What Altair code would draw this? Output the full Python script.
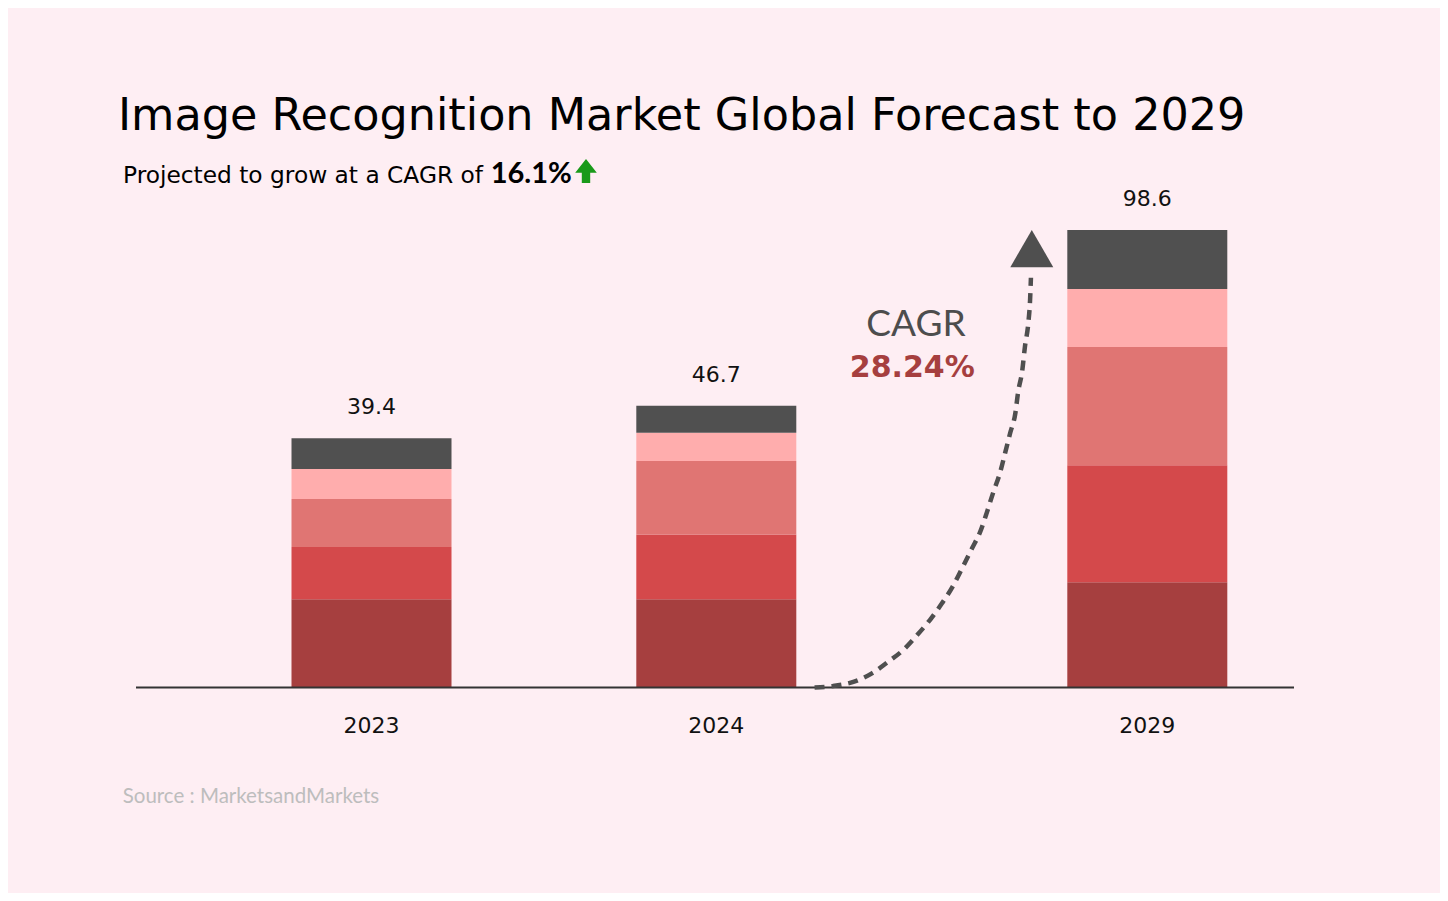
import altair as alt
import pandas as pd

# ---------------- data ----------------
years = ["2023", "2024", "2029"]
totals = ["39.4", "46.7", "98.6"]
segments = ["Segment 1", "Segment 2", "Segment 3", "Segment 4", "Segment 5"]
# segment heights (bottom -> top) as drawn in the picture, in chart units
seg_2023 = [19.0, 11.3, 10.3, 6.5, 6.6]
seg_2024 = [19.0, 13.9, 15.9, 6.1, 5.8]
seg_2029 = [22.7, 25.2, 25.5, 12.5, 12.7]
colors = ["#A63F3F", "#D4494B", "#E07573", "#FFADAD", "#505050"]

# dashed CAGR curve (slot units on x, chart units on y)
curve_slot = [5.14, 5.35, 5.59, 5.81, 5.99, 6.17, 6.33, 6.48, 6.62, 6.74, 6.86, 6.97, 7.06,
              7.14, 7.21, 7.29, 7.35, 7.41, 7.47, 7.50, 7.55, 7.58, 7.62, 7.64, 7.65]
curve_value = [0.0, 0.3, 1.2, 3.1, 5.5, 8.1, 11.3, 14.6, 18.2, 21.7, 26.0, 30.1, 33.5,
               37.8, 41.9, 46.2, 50.5, 54.9, 59.2, 63.5, 68.4, 73.4, 78.6, 83.5, 88.3]
arrow_slot = [7.66]
arrow_value = [94.6]

title_text = "Image Recognition Market Global Forecast to 2029"
subtitle_text = "Projected to grow at a CAGR of"
subtitle_value = "16.1%"
cagr_label = "CAGR"
cagr_value = "28.24%"
source_text = "Source : MarketsandMarkets"

# ---------------- tables ----------------
rows = []
for y, segs in zip(years, [seg_2023, seg_2024, seg_2029]):
    for i, (s, v) in enumerate(zip(segments, segs)):
        rows.append({"year": y, "segment": s, "idx": i, "value": v})
df_bars = pd.DataFrame(rows)
df_tot = pd.DataFrame({
    "year": years,
    "height": [sum(s) for s in [seg_2023, seg_2024, seg_2029]],
    "label": totals,
})
df_curve = pd.DataFrame({"slot": curve_slot, "value": curve_value})
df_arrow = pd.DataFrame({"slot": arrow_slot, "value": arrow_value})

# category slots: years separated by empty slots to reproduce spacing
x_domain = ["2023", "_g1", "_g2", "_g3", "2024", "_g4", "_g5", "_g6", "_g7", "2029"]
X_RANGE = [363.5, 1139.3]
xscale = alt.Scale(type="point", domain=x_domain, range=X_RANGE, padding=0)
yscale = alt.Scale(domain=[0, 100], range=[679.5, 215.5], nice=False, zero=False)

W, H = 1432, 885
BG = "#FEEEF3"

bars = alt.Chart(df_bars).mark_bar(size=160).encode(
    x=alt.X("year:N", scale=xscale, axis=None),
    y=alt.Y("value:Q", stack="zero", scale=yscale, axis=None),
    color=alt.Color("segment:N", scale=alt.Scale(domain=segments, range=colors), legend=None),
    order=alt.Order("idx:Q", sort="ascending"),
)

value_labels = alt.Chart(df_tot).mark_text(
    dy=-24, baseline="alphabetic", align="center", font="DejaVu Sans", fontSize=22, color="#111111"
).encode(
    x=alt.X("year:N", scale=xscale, axis=None),
    y=alt.Y("height:Q", scale=yscale, axis=None),
    text="label:N",
)

year_labels = alt.Chart(df_tot).mark_text(
    baseline="alphabetic", align="center", font="DejaVu Sans", fontSize=22, color="#111111"
).encode(
    x=alt.X("year:N", scale=xscale, axis=None),
    y=alt.value(724.7),
    text="year:N",
)

baseline = alt.Chart(pd.DataFrame({"v": [0]})).mark_rule(color="#333333", strokeWidth=2).encode(
    y=alt.Y("v:Q", scale=yscale, axis=None),
    x=alt.value(128), x2=alt.value(1286),
)

curve_xscale = alt.Scale(domain=[0, 9], range=X_RANGE, nice=False, zero=False)
curve = alt.Chart(df_curve).mark_line(
    color="#4F4F4F", strokeWidth=4.5, strokeDash=[10, 7], interpolate="monotone"
).encode(
    x=alt.X("slot:Q", scale=curve_xscale, axis=None),
    y=alt.Y("value:Q", scale=yscale, axis=None),
)
arrow_head = alt.Chart(df_arrow).mark_point(
    shape="triangle-up", size=1849, filled=True, color="#4F4F4F", opacity=1
).encode(
    x=alt.X("slot:Q", scale=curve_xscale, axis=None),
    y=alt.Y("value:Q", scale=yscale, axis=None),
)


def text_layer(txt, x, y, **kw):
    return alt.Chart(pd.DataFrame({"t": [txt]})).mark_text(baseline="alphabetic", **kw).encode(
        x=alt.value(x), y=alt.value(y), text="t:N"
    )


title = text_layer(title_text, 110, 122, align="left", font="DejaVu Sans", fontSize=44.5,
                   color="#000000")
subtitle = text_layer(subtitle_text, 115, 175.3, align="left", font="DejaVu Sans", fontSize=23.3,
                      color="#000000")
subtitle_val = text_layer(subtitle_value, 482.7, 174.7, align="left", font="Lato", fontSize=29,
                          fontWeight="bold", color="#000000")
green_arrow = alt.Chart(pd.DataFrame({"t": [subtitle_value]})).mark_point(
    shape="M-0.35,1L0.35,1L0.35,0.15L0.9,0.15L0,-1L-0.9,0.15L-0.35,0.15Z",
    size=576, filled=True, color="#1A9A1A", opacity=1,
).encode(x=alt.value(578), y=alt.value(163))
cagr_t = text_layer(cagr_label, 908, 327.7, align="center", font="Lato", fontSize=37,
                    color="#4D4D4D")
cagr_v = text_layer(cagr_value, 904.3, 369.3, align="center", font="DejaVu Sans", fontSize=30,
                    fontWeight="bold", color="#A63F3F")
source = text_layer(source_text, 114.7, 795, align="left", font="Lato", fontSize=20.5,
                    color="#BDBDBD")

chart = alt.layer(
    bars, baseline, value_labels, year_labels, curve, arrow_head,
    title, subtitle, subtitle_val, green_arrow, cagr_t, cagr_v, source,
).resolve_scale(x="independent").properties(
    width=W, height=H, padding=0, autosize=alt.AutoSizeParams(type="none"),
    background=BG,
).configure_view(stroke=None)

chart.save("out.html", embed_options={"renderer": "svg", "actions": False})
